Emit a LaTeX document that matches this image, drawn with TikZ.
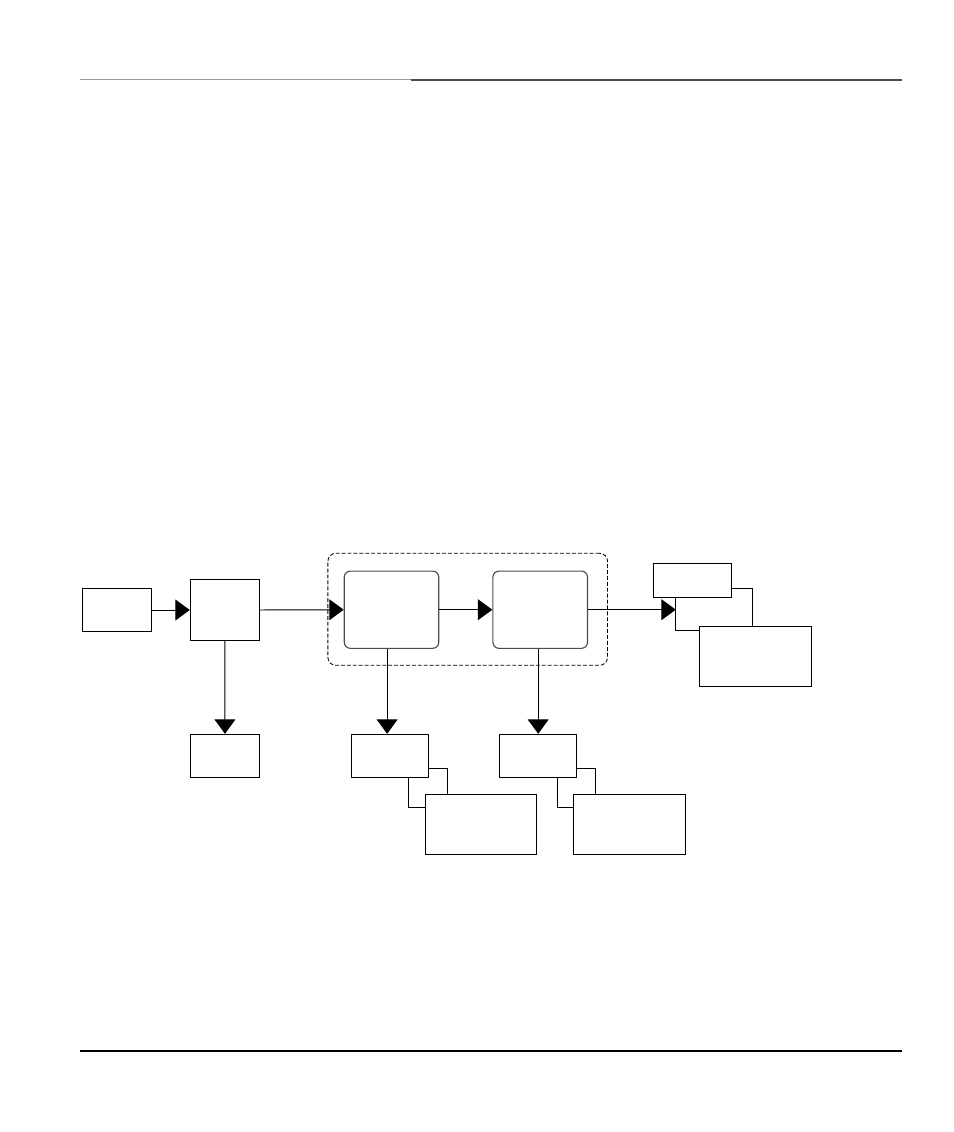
\documentclass[tikz,border=0pt]{standalone}
\usetikzlibrary{positioning,arrows.meta}

\begin{document}
\begin{tikzpicture}[x=0.025cm, y=-0.025cm,
  box/.style={draw, line width=0.7pt, inner sep=0pt},
  stage/.style={draw=black!70, line width=0.8pt, rounded corners=0.15cm, inner sep=0pt},
  frame/.style={draw, line width=0.6pt, dash pattern=on 2.8pt off 1.4pt, rounded corners=0.2cm, inner sep=0pt},
  wire/.style={line width=0.7pt},
  flow/.style={line width=0.7pt, -{Triangle[length=0.36cm, width=0.52cm]}}]
\useasboundingbox (0,0) rectangle (954,1132);
% Rules
\draw[black!40, line width=1.1pt] (80,79.5) -- (411,79.5);
\draw[black!70, line width=1.1pt] (411,80) -- (902,80);
\draw[line width=1.1pt] (80,1051) -- (902,1051);
% Nodes
\node[frame, minimum width=6.99cm, minimum height=2.8cm] (group) at (467.7,609.3) {};
\node[box, minimum width=1.73cm, minimum height=1.075cm] (source) at (117.1,610) {};
\node[box, minimum width=1.725cm, minimum height=1.525cm] (split) at (224.8,610) {};
\node[stage, minimum width=2.36cm, minimum height=1.93cm] (stageA) at (391.5,609.7) {};
\node[stage, minimum width=2.365cm, minimum height=1.93cm] (stageB) at (540.2,609.7) {};
\node[box, minimum width=1.96cm, minimum height=0.85cm] (outTop) at (692.5,580.3) {};
\node[box, minimum width=2.81cm, minimum height=1.49cm] (outNote) at (755.5,656.2) {};
\node[box, minimum width=1.735cm, minimum height=1.07cm] (sink) at (225,755.7) {};
\node[box, minimum width=1.925cm, minimum height=1.075cm] (outA) at (389.8,755.8) {};
\node[box, minimum width=2.765cm, minimum height=1.5cm] (noteA) at (481,824.3) {};
\node[box, minimum width=1.925cm, minimum height=1.075cm] (outB) at (538.2,755.8) {};
\node[box, minimum width=2.8cm, minimum height=1.5cm] (noteB) at (629.3,824.3) {};
% Side wires
\coordinate (outTopDrop) at ([xshift=0.575cm]outTop.south west);
\draw[wire] ([yshift=0.225cm]outTop.south east) -| ([xshift=1.35cm]outNote.north west);
\draw[wire] (outTopDrop) |- ([yshift=-0.12cm]outNote.north west);
\draw[wire] ([yshift=0.225cm]outA.south east) -| ([xshift=0.565cm]noteA.north west);
\draw[wire] ([xshift=-0.5cm]outA.south east) |- ([yshift=-0.35cm]noteA.north west);
\draw[wire] ([yshift=0.225cm]outB.south east) -| ([xshift=0.575cm]noteB.north west);
\draw[wire] ([xshift=-0.5cm]outB.south east) |- ([yshift=-0.35cm]noteB.north west);
% Arrows
\draw[flow] (source.east) -- (split.west);
\draw[flow] (split.east) -- (stageA.west);
\draw[flow] (stageA.east) -- (stageB.west);
\draw[flow] (stageB.east) -- (stageB.east -| outTopDrop);
\draw[flow] (split.south) -- (sink.north);
\draw[flow] ([xshift=-1.9pt]outA.north |- stageA.south) -- ([xshift=-1.9pt]outA.north);
\draw[flow] (stageB.south -| outB.north) -- (outB.north);
\end{tikzpicture}
\end{document}
